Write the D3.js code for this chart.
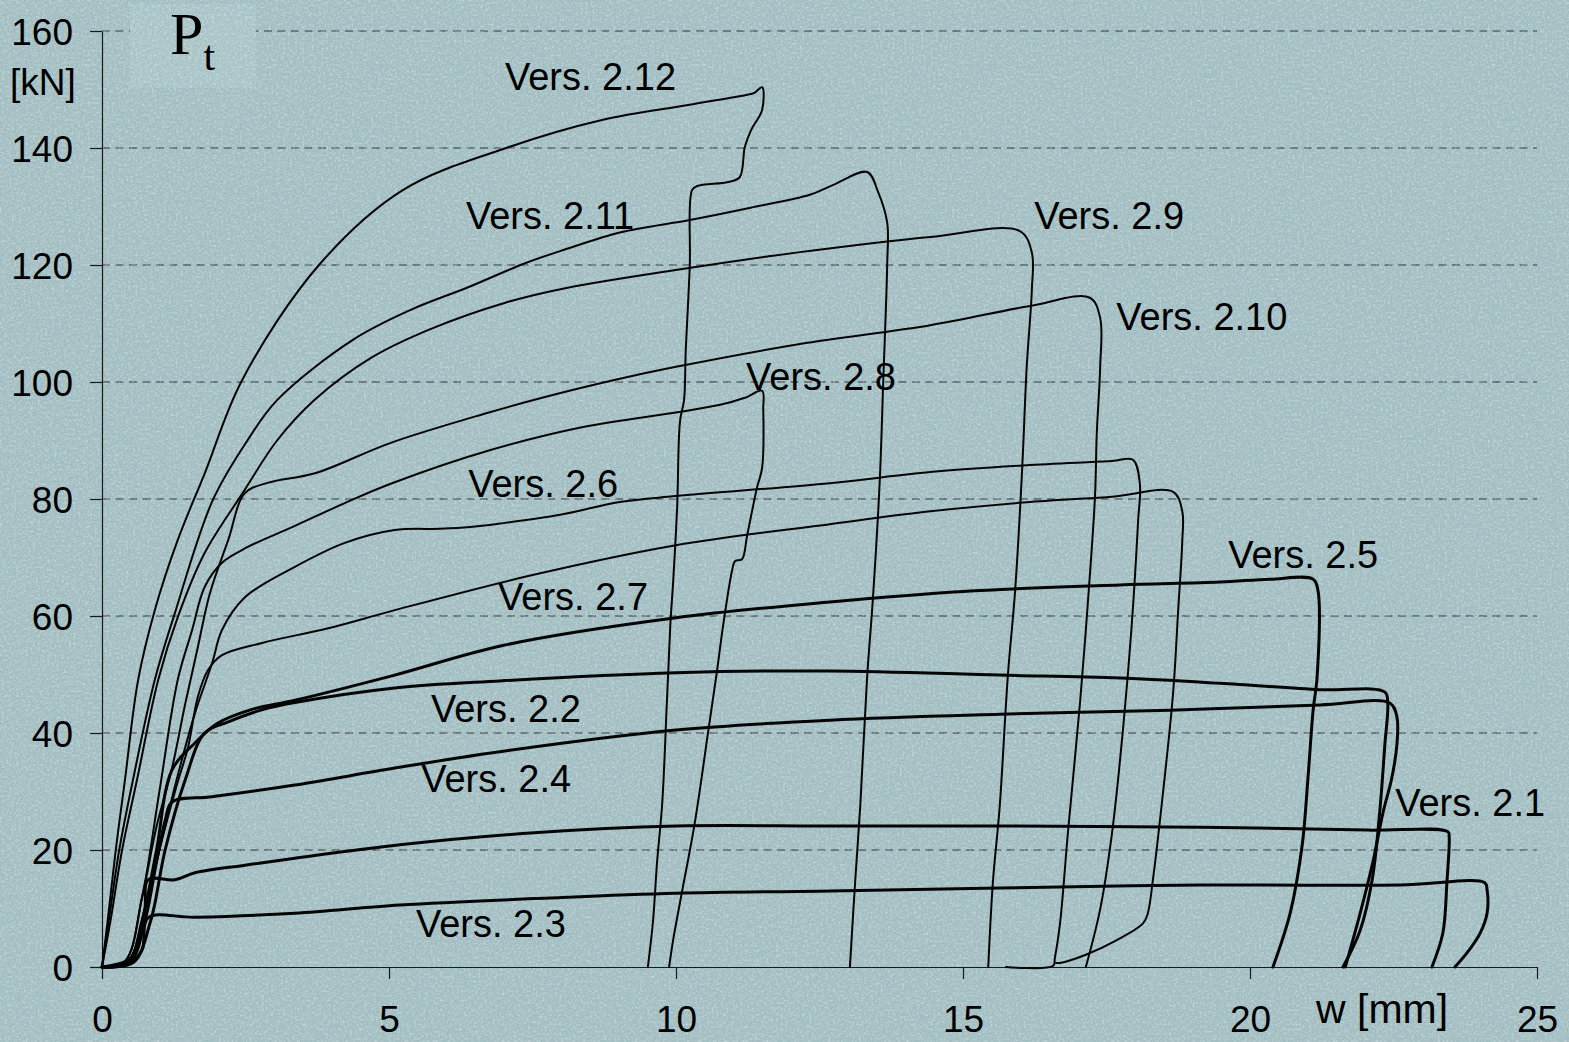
<!DOCTYPE html>
<html>
<head>
<meta charset="utf-8">
<script src="https://cdn.jsdelivr.net/npm/d3@7"></script>
<style>
  html, body { margin: 0; padding: 0; background: #a5c0c5; }
  svg { display: block; }
</style>
</head>
<body>
<svg id="chart" width="1569" height="1042"></svg>
<script>
// Axis ticks
const xTicks = [0, 5, 10, 15, 20, 25];
const yTicks = [0, 20, 40, 60, 80, 100, 120, 140, 160];

// Load–deflection curves: [w in mm, Pt in kN]
const v2_12 = [[0,0],[0.10,8.0],[0.24,20.0],[0.40,32.0],[0.63,49.1],[0.92,61.0],[1.32,73.0],[1.79,84.4],[2.44,100.3],[3.78,120.0],[5.24,132.8],[7.04,140.0],[8.71,144.8],[10.24,147.4],[11.24,149.1],[11.36,149.4],[11.50,150.4],
  [11.50,146.5],[11.31,143.1],[11.20,140.2],[11.11,135.0],[10.91,134.2],[10.37,133.5],[10.28,132.8],[10.24,119.7],[10.17,105.5],[10.14,96.9],[10.07,93.3],[10.02,78.6],[9.95,65.8],[9.90,58.3],[9.84,45.0],[9.76,28.0],[9.67,17.9],[9.60,7.9],[9.51,0]];

const v2_11 = [[0,0],[0.12,8],[0.30,20],[0.54,32.0],[0.92,49.1],[1.27,60.5],[1.93,79.8],[2.54,90.1],[3.05,96.9],[4.37,107.2],[5.37,112.3],[6.38,116.2],[7.37,120.3],[8.05,122.6],[9.04,125.6],[10.24,127.7],[11.30,129.8],[12.33,132.0],[12.74,133.7],[13.33,135.9],
  [13.52,132.5],[13.68,127.2],[13.68,120.3],[13.61,100.0],[13.55,83.2],[13.43,62.9],[13.33,49.6],[13.21,27.5],[13.12,14.4],[13.03,0]];

const v2_9 = [[0,0],[0.15,8],[0.35,20],[0.61,32.0],[0.98,49.1],[1.32,59.8],[1.79,70.8],[2.47,81.3],[3.05,90.0],[3.71,97.0],[4.70,104.2],[5.71,109.0],[7.04,113.6],[8.05,116.0],[10.37,119.7],[12.16,122.2],[14.43,124.8],[15.99,125.8],
  [16.20,122.1],[16.20,115.9],[16.11,102.6],[16.03,85.0],[15.91,64.6],[15.78,49.6],[15.64,27.5],[15.52,14.4],[15.44,0]];

const v2_10 = [[0,0],[0.40,1],[0.70,12],[0.95,24],[1.22,34],[1.45,45],[1.67,54.7],[1.88,63.9],[2.20,73.0],[2.49,81.0],[2.90,82.8],[3.71,84.4],[5.03,89.6],[6.71,94.7],[7.70,97.4],[9.04,100.6],[10.0,102.6],[12.16,106.5],[14.43,109.7],[16.17,113.0],[17.21,114.4],
  [17.39,110.9],[17.39,102.6],[17.33,91.1],[17.30,80.5],[17.18,62.9],[17.04,45.3],[16.83,23.2],[16.69,7.4],[16.60,1.5],[16.57,0.2],[15.75,0]];

const v2_8 = [[0,0],[0.40,1],[0.70,12],[1.00,30],[1.32,49.1],[1.57,57.6],[1.79,65.0],[2.09,69.1],[2.54,71.8],[3.36,75.4],[4.23,79.3],[5.03,82.6],[6.71,88.2],[8.38,92.3],[10.0,94.8],[10.77,96.1],[11.20,97.3],[11.50,98.5],
  [11.52,95.4],[11.50,85.3],[11.41,81.9],[11.24,73.8],[11.15,69.7],[11.03,69.4],[10.98,67.9],[10.82,58.3],[10.71,50.3],[10.56,40.2],[10.33,24.8],[10.10,12.6],[9.95,4.6],[9.88,0]];

const v2_6 = [[0,0],[0.45,1],[0.75,10],[1.05,22],[1.30,32],[1.62,43.4],[1.92,52.0],[2.09,57.6],[2.49,63.2],[3.36,68.4],[4.23,72.5],[5.10,74.7],[5.89,74.9],[6.41,75.2],[6.93,75.8],[7.98,77.3],[9.02,79.5],[10.0,80.5],[12.68,82.7],[14.43,84.6],[16.17,85.8],[17.60,86.5],[17.96,86.7],
  [18.08,82.7],[18.05,76.1],[17.94,58.5],[17.79,40.9],[17.60,23.2],[17.39,9.9],[17.14,0]];

const v2_7 = [[0,0],[0.45,1],[0.75,10],[1.05,22],[1.30,31],[1.50,37.6],[1.67,46.2],[1.85,50.8],[2.09,53.3],[2.79,55.4],[3.94,57.9],[5.10,61.0],[7.50,67.0],[10.0,72.1],[12.68,75.7],[14.43,77.9],[16.17,79.5],[17.60,80.4],[18.66,81.2],
  [18.82,77.9],[18.82,72.8],[18.75,61.2],[18.66,46.8],[18.48,29.4],[18.31,15.0],[18.22,9.2],[18.14,7.5],[17.68,4.6],[17.14,2.1],[16.69,0.7],[16.62,0.7]];

const v2_5 = [[0,0],[0.45,0.8],[0.70,8],[0.95,20],[1.22,33.7],[1.62,38.3],[2.02,41.7],[2.60,44.0],[3.36,45.6],[5.10,49.9],[7.00,55.0],[10.0,59.7],[12.68,62.4],[15.0,64.2],[17.73,65.3],[19.48,65.8],[20.35,66.3],[21.10,66.3],
  [21.18,64.6],[21.17,49.7],[21.10,43.9],[21.01,32.3],[20.91,20.9],[20.70,9.2],[20.40,0]];

const v2_2 = [[0,0],[0.55,0.8],[0.85,8],[1.10,20],[1.45,32],[1.79,40.0],[2.20,41.9],[2.80,44.0],[3.36,45.2],[5.10,47.7],[6.93,48.9],[10.0,50.3],[12.68,50.6],[15.64,49.9],[17.73,49.4],[19.48,48.5],[21.22,47.4],[22.35,47.0],
  [22.40,45.1],[22.35,38.1],[22.26,26.5],[22.13,15.0],[21.92,6.3],[21.62,0]];

const v2_4 = [[0,0],[0.50,1.5],[0.75,8],[0.95,18],[1.10,25],[1.22,28.2],[1.92,29.1],[3.36,31.1],[5.10,34.0],[6.93,36.8],[10.0,40.5],[12.68,42.2],[15.64,43.2],[18.61,43.9],[21.22,44.8],[22.44,45.1],
  [22.56,42.7],[22.56,38.1],[22.47,32.3],[22.32,26.5],[22.14,17.9],[21.92,9.2],[21.66,0]];

const v2_1 = [[0,0],[0.45,0.5],[0.62,3],[0.75,10],[0.80,14.9],[1.27,14.9],[1.62,16.1],[2.49,17.4],[3.36,18.6],[5.19,20.9],[7.46,22.9],[10.0,24.1],[12.68,24.1],[15.64,24.1],[19.13,23.9],[22.04,23.4],[23.45,23.1],
  [23.47,22.2],[23.43,14.4],[23.36,5.8],[23.17,0]];

const v2_3 = [[0,0],[0.50,0.8],[0.70,3],[0.80,8.4],[1.62,8.5],[3.36,9.2],[5.19,10.6],[7.80,11.8],[10.0,12.6],[12.68,13.0],[15.64,13.5],[19.13,14.0],[22.61,14.0],[24.09,14.4],
  [24.13,13.2],[24.13,9.2],[24.01,5.8],[23.78,2.4],[23.57,0]];

const seriesNames = ["Vers. 2.12","Vers. 2.11","Vers. 2.9","Vers. 2.10","Vers. 2.8","Vers. 2.6","Vers. 2.7","Vers. 2.5","Vers. 2.2","Vers. 2.4","Vers. 2.1","Vers. 2.3"];
const seriesValues = [v2_12, v2_11, v2_9, v2_10, v2_8, v2_6, v2_7, v2_5, v2_2, v2_4, v2_1, v2_3];

// Label anchors (w, Pt) where each curve name is written
const labelAnchors = [[7.02,149.9],[6.34,126.2],[16.24,126.2],[17.67,108.9],[11.22,98.6],[6.38,80.3],[6.90,61.0],[19.62,68.2],[5.73,41.9],[5.56,29.9],[22.53,25.8],[5.47,5.1]];

// ---- drawing ----
const W = 1569, H = 1042;
const svg = d3.select("#chart");
const sans = "'Liberation Sans', Arial, Helvetica, sans-serif";
const serif = "'Liberation Serif', 'Times New Roman', serif";

const x = d3.scaleLinear().domain([0, 25]).range([102, 1537]);
const y = d3.scaleLinear().domain([0, 160]).range([967, 31]);

// paper-like grain
const defs = svg.append("defs");
const grain = defs.append("filter").attr("id", "grain")
  .attr("x", 0).attr("y", 0).attr("width", "100%").attr("height", "100%");
grain.append("feTurbulence").attr("type", "fractalNoise")
  .attr("baseFrequency", 0.42).attr("numOctaves", 3).attr("seed", 11).attr("result", "n");
grain.append("feColorMatrix").attr("in", "n").attr("type", "matrix")
  .attr("values", "0 0 0 0 1  0 0 0 0 1  0 0 0 0 1  1.6 0 0 0 -0.72");
const grainDark = defs.append("filter").attr("id", "grainDark")
  .attr("x", 0).attr("y", 0).attr("width", "100%").attr("height", "100%");
grainDark.append("feTurbulence").attr("type", "fractalNoise")
  .attr("baseFrequency", 0.6).attr("numOctaves", 2).attr("seed", 4).attr("result", "n");
grainDark.append("feColorMatrix").attr("in", "n").attr("type", "matrix")
  .attr("values", "0 0 0 0 0.25  0 0 0 0 0.35  0 0 0 0 0.38  1.4 0 0 0 -0.66");

svg.append("rect").attr("width", W).attr("height", H).attr("fill", "#a4c0c4");

// dashed horizontal grid
svg.append("g").selectAll("line")
  .data(yTicks.filter(d => d > 0))
  .join("line")
  .attr("x1", x(0)).attr("x2", x(25))
  .attr("y1", d => y(d)).attr("y2", d => y(d))
  .attr("stroke", "#2b2f30").attr("stroke-width", 1)
  .attr("stroke-dasharray", "8,5.5");

// title patch behind P_t
svg.append("rect").attr("x", 130).attr("y", 4).attr("width", 126).attr("height", 84)
  .attr("fill", "#abc6c9");

svg.append("rect").attr("width", W).attr("height", H).attr("filter", "url(#grain)").attr("opacity", 0.55);
svg.append("rect").attr("width", W).attr("height", H).attr("filter", "url(#grainDark)").attr("opacity", 0.5);

// axes
const yAxis = d3.axisLeft(y).tickValues(yTicks).tickSize(12).tickSizeOuter(0).tickPadding(17).tickFormat(d3.format("d"));
const xAxis = d3.axisBottom(x).tickValues(xTicks).tickSize(12).tickSizeOuter(0).tickPadding(27).tickFormat(d3.format("d"));

const gy = svg.append("g").attr("transform", `translate(${x(0)},0)`).call(yAxis);
const gx = svg.append("g").attr("transform", `translate(0,${y(0)})`).call(xAxis);
[gx, gy].forEach(g => {
  g.selectAll("path.domain").attr("stroke", "#1a1a1a").attr("stroke-width", 1.2);
  g.selectAll(".tick line").attr("stroke", "#1a1a1a").attr("stroke-width", 1.2);
  g.selectAll(".tick text").attr("fill", "#000").attr("font-family", sans).attr("font-size", 37);
});
gy.selectAll(".tick text").attr("dy", "0.36em");
gx.selectAll(".tick text").attr("dy", "0.71em");

// curves
const line = d3.line()
  .x(d => x(d[0])).y(d => y(d[1]))
  .curve(d3.curveCatmullRom.alpha(0.5));

const heavy = new Set(["Vers. 2.5","Vers. 2.2","Vers. 2.4","Vers. 2.1","Vers. 2.3"]);
svg.append("g").selectAll("path")
  .data(seriesNames.map((n, i) => ({ name: n, values: seriesValues[i] })))
  .join("path")
  .attr("d", d => line(d.values))
  .attr("fill", "none")
  .attr("stroke", "#050505")
  .attr("stroke-width", d => heavy.has(d.name) ? 3 : 2)
  .attr("stroke-linejoin", "round")
  .attr("stroke-linecap", "round");

// curve names
svg.append("g").selectAll("text")
  .data(seriesNames.map((n, i) => ({ name: n, at: labelAnchors[i] })))
  .join("text")
  .attr("x", d => x(d.at[0])).attr("y", d => y(d.at[1]))
  .attr("font-family", sans).attr("font-size", 38).attr("fill", "#000")
  .text(d => d.name);

// axis titles
svg.append("text").attr("x", 10).attr("y", 95)
  .attr("font-family", sans).attr("font-size", 37).attr("fill", "#000").text("[kN]");
svg.append("text").attr("x", 1316).attr("y", 1023)
  .attr("font-family", sans).attr("font-size", 41).attr("fill", "#000").text("w [mm]");

const pt = svg.append("text").attr("x", 170).attr("y", 54)
  .attr("font-family", serif).attr("fill", "#000");
pt.append("tspan").attr("font-size", 60).text("P");
pt.append("tspan").attr("font-size", 42).attr("dy", 16).text("t");
</script>
</body>
</html>
